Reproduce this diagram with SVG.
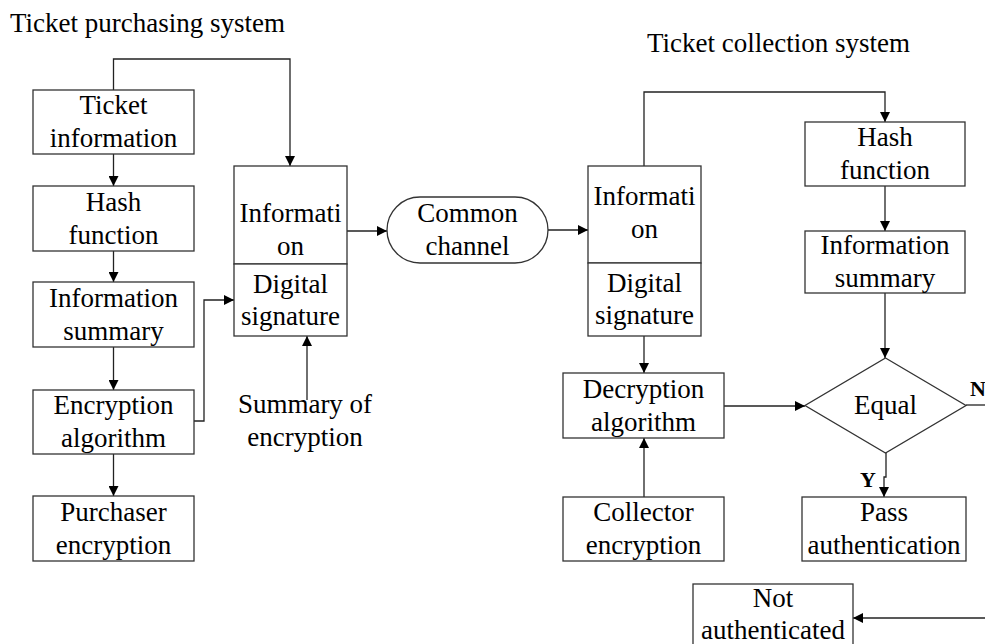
<svg xmlns="http://www.w3.org/2000/svg" width="985" height="644" viewBox="0 0 985 644">
<defs>
<style>
text{font-family:'Liberation Serif','DejaVu Serif','Times New Roman',serif;font-size:27px;fill:#000;text-anchor:middle}
.title{text-anchor:start}
.yn{font-weight:bold;font-size:22px}
.box{fill:#fff;stroke:#333;stroke-width:1.3}
.line{fill:none;stroke:#222;stroke-width:1.3}
</style>
<marker id="arr" markerWidth="10" markerHeight="10" refX="10" refY="5" orient="auto" markerUnits="userSpaceOnUse">
<path d="M0,0 L10,5 L0,10 Z" fill="#000"/>
</marker>
</defs>
<rect width="985" height="644" fill="#fff"/>
<g font-family="Liberation Serif, serif">
<text class="title" x="10" y="32">Ticket purchasing system</text>
<text class="title" x="647" y="52">Ticket collection system</text>

<g id="connectors">
<path class="line" d="M113.5,90 V59 H290 V166" marker-end="url(#arr)"/>
<path class="line" d="M113.5,154 V186" marker-end="url(#arr)"/>
<path class="line" d="M113.5,251 V282" marker-end="url(#arr)"/>
<path class="line" d="M113.5,347 V390" marker-end="url(#arr)"/>
<path class="line" d="M113.5,454 V496" marker-end="url(#arr)"/>
<path class="line" d="M194,421 H204 V300 H234" marker-end="url(#arr)"/>
<path class="line" d="M307,400 V336" marker-end="url(#arr)"/>
<path class="line" d="M347,231 H387" marker-end="url(#arr)"/>
<path class="line" d="M548,230 H588" marker-end="url(#arr)"/>
<path class="line" d="M644,166 V92 H885 V122" marker-end="url(#arr)"/>
<path class="line" d="M885,186 V231" marker-end="url(#arr)"/>
<path class="line" d="M885,293 V358" marker-end="url(#arr)"/>
<path class="line" d="M644,336 V373" marker-end="url(#arr)"/>
<path class="line" d="M644,497 V438" marker-end="url(#arr)"/>
<path class="line" d="M724,406 H805" marker-end="url(#arr)"/>
<path class="line" d="M886,453 V477 H884 V497" marker-end="url(#arr)"/>
<path class="line" d="M966,405 H985"/>
<path class="line" d="M985,618 H853" marker-end="url(#arr)"/>
<text class="yn" x="868" y="487">Y</text>
<text class="yn" x="970" y="396" style="text-anchor:start">N</text>
</g>

<g id="ticket-information">
<rect class="box" x="33" y="90" width="161" height="64"/>
<text x="113.5" y="114">Ticket</text>
<text x="113.5" y="147">information</text>
</g>
<g id="hash-function-1">
<rect class="box" x="33" y="186" width="161" height="65"/>
<text x="113.5" y="211">Hash</text>
<text x="113.5" y="244">function</text>
</g>
<g id="information-summary-1">
<rect class="box" x="33" y="282" width="161" height="65"/>
<text x="113.5" y="307">Information</text>
<text x="113.5" y="340">summary</text>
</g>
<g id="encryption-algorithm">
<rect class="box" x="33" y="390" width="161" height="64"/>
<text x="113.5" y="414">Encryption</text>
<text x="113.5" y="447">algorithm</text>
</g>
<g id="purchaser-encryption">
<rect class="box" x="33" y="496" width="161" height="65"/>
<text x="113.5" y="521">Purchaser</text>
<text x="113.5" y="554">encryption</text>
</g>
<g id="information-signature-1">
<rect class="box" x="234" y="166" width="113" height="98"/>
<rect class="box" x="234" y="264" width="113" height="72"/>
<text x="290.5" y="222">Informati</text>
<text x="290.5" y="255">on</text>
<text x="290.5" y="293">Digital</text>
<text x="290.5" y="325">signature</text>
</g>
<g id="summary-of-encryption">
<text x="305" y="413">Summary of</text>
<text x="305" y="446">encryption</text>
</g>
<g id="common-channel">
<rect class="box" x="387" y="197" width="161" height="66" rx="33" ry="33"/>
<text x="467.5" y="222">Common</text>
<text x="467.5" y="255">channel</text>
</g>
<g id="information-signature-2">
<rect class="box" x="588" y="166" width="113" height="97"/>
<rect class="box" x="588" y="263" width="113" height="73"/>
<text x="644.5" y="205">Informati</text>
<text x="644.5" y="238">on</text>
<text x="644.5" y="292">Digital</text>
<text x="644.5" y="324">signature</text>
</g>
<g id="hash-function-2">
<rect class="box" x="805" y="122" width="160" height="64"/>
<text x="885" y="146">Hash</text>
<text x="885" y="179">function</text>
</g>
<g id="information-summary-2">
<rect class="box" x="805" y="231" width="160" height="62"/>
<text x="885" y="254">Information</text>
<text x="885" y="287">summary</text>
</g>
<g id="decryption-algorithm">
<rect class="box" x="563" y="373" width="161" height="65"/>
<text x="643.5" y="398">Decryption</text>
<text x="643.5" y="431">algorithm</text>
</g>
<g id="equal">
<polygon class="box" points="885.5,358 966,405.5 885.5,453 805,405.5"/>
<text x="885.5" y="414">Equal</text>
</g>
<g id="collector-encryption">
<rect class="box" x="563" y="497" width="161" height="64"/>
<text x="643.5" y="521">Collector</text>
<text x="643.5" y="554">encryption</text>
</g>
<g id="pass-authentication">
<rect class="box" x="802" y="497" width="164" height="64"/>
<text x="884" y="521">Pass</text>
<text x="884" y="554">authentication</text>
</g>
<g id="not-authenticated">
<rect class="box" x="693" y="584" width="160" height="64"/>
<text x="773" y="607">Not</text>
<text x="773" y="639">authenticated</text>
</g>
</g>
</svg>
